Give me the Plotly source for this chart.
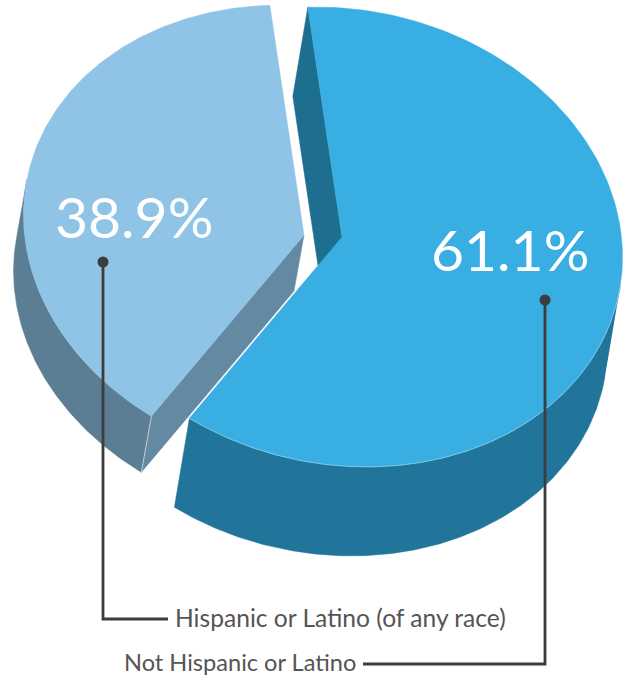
import numpy as np
import plotly.graph_objects as go

categories = ["Not Hispanic or Latino", "Hispanic or Latino (of any race)"]
shares = [61.1, 38.9]
share_labels = ["61.1%", "38.9%"]

RX, SHEAR, RY = 280.5, 20.0, 229.0
START = -7.0
N = 160


def ring(cx, cy, t0, t1, n=N):
    t = np.radians(np.linspace(t0, t1, n))
    return cx + RX * np.sin(t), cy + SHEAR * np.sin(t) - RY * np.cos(t)


def poly(x, y, color, line=None, width=0, close=True):
    return go.Scatter(
        x=list(x), y=list(y), mode="lines",
        fill="toself" if close else "none",
        fillcolor=color if close else None,
        line=dict(color=line or color, width=width),
        hoverinfo="skip", showlegend=False,
    )


def seq(*parts):
    xs = np.concatenate([np.atleast_1d(p[0]) for p in parts])
    ys = np.concatenate([np.atleast_1d(p[1]) for p in parts])
    return xs, ys


sweep_big = 360.0 * shares[0] / sum(shares)
sweep_small = 360.0 * shares[1] / sum(shares)
end_big = START + sweep_big
end_small = end_big + sweep_small

fig = go.Figure()

# smaller (exploded left) slice
ax, ay = 304.0, 235.0
dx, dy = -10.0, 56.0
sx, sy = ax + dx, ay + dy
tangent = 279.0
top = ring(ax, ay, end_big, tangent)
bot = ring(sx, sy, end_big, tangent)
o = seq(top, (bot[0][::-1], bot[1][::-1]))
fig.add_trace(poly(o[0], o[1], "#5B7E94", width=0.5))
e0 = ring(ax, ay, end_big, end_big, 1)
e1 = ring(sx, sy, end_big, end_big, 1)
fig.add_trace(poly([ax, sx, e1[0][0], e0[0][0], ax], [ay, sy, e1[1][0], e0[1][0], ay], "#648AA3", width=0.5))
fig.add_trace(poly([e0[0][0], e1[0][0]], [e0[1][0], e1[1][0]], None, line="#B9CBD6", width=1, close=False))
t = ring(ax, ay, end_big, end_small)
o = seq((ax, ay), t, (ax, ay))
fig.add_trace(poly(o[0], o[1], "#8FC4E6", width=0.5))

# larger slice
ax, ay = 342.0, 237.0
dx, dy = -15.0, 89.0
sx, sy = ax + dx, ay + dy
tangent = 97.7
top = ring(ax, ay, tangent, end_big)
bot = ring(sx, sy, tangent, end_big)
o = seq(top, (bot[0][::-1], bot[1][::-1]))
fig.add_trace(poly(o[0], o[1], "#21749A", width=0.5))
s0 = ring(ax, ay, START, START, 1)
s1 = ring(sx, sy, START, START, 1)
fig.add_trace(poly([ax, s0[0][0], s1[0][0], sx, ax], [ay, s0[1][0], s1[1][0], sy, ay], "#1D6E8F", width=0.5))
t = ring(ax, ay, START, end_big)
o = seq((ax, ay), t, (ax, ay))
fig.add_trace(poly(o[0], o[1], "#38AEE2", width=0.5))
edge = ring(ax, ay, tangent, end_big)
fig.add_trace(poly(edge[0], edge[1], None, line="#8FCBE6", width=0.8, close=False))

# leader lines
LEADER = "#3D3D3D"
fig.add_trace(go.Scatter(x=[103, 103, 168], y=[262, 619, 619], mode="lines",
                         line=dict(color=LEADER, width=2.8), hoverinfo="skip", showlegend=False))
fig.add_trace(go.Scatter(x=[545, 545, 363], y=[300, 664, 664], mode="lines",
                         line=dict(color=LEADER, width=2.8), hoverinfo="skip", showlegend=False))
fig.add_trace(go.Scatter(x=[103, 545], y=[262, 300], mode="markers",
                         marker=dict(color=LEADER, size=11), hoverinfo="skip", showlegend=False))

FONT = "Lato"
anns = [
    dict(x=134, y=216, text=share_labels[1], size=57, color="#FFFFFF", xanchor="center"),
    dict(x=510, y=249, text=share_labels[0], size=57, color="#FFFFFF", xanchor="center"),
    dict(x=173, y=617, text=categories[1], size=24.6, color="#555555", xanchor="left"),
    dict(x=358, y=662, text=categories[0], size=23.6, color="#555555", xanchor="right"),
]
for a in anns:
    fig.add_annotation(x=a["x"], y=a["y"], text=a["text"], showarrow=False, xanchor=a["xanchor"],
                       yanchor="middle", font=dict(family=FONT, size=a["size"], color=a["color"]))

fig.update_layout(
    width=625, height=677, margin=dict(l=0, r=0, t=0, b=0),
    paper_bgcolor="white", plot_bgcolor="white", showlegend=False,
    xaxis=dict(range=[0, 625], visible=False, fixedrange=True),
    yaxis=dict(range=[677, 0], visible=False, fixedrange=True),
)
fig.write_html("out.html", config={"displayModeBar": False},
               post_script="document.body.style.margin='0';document.documentElement.style.overflow='hidden';")
